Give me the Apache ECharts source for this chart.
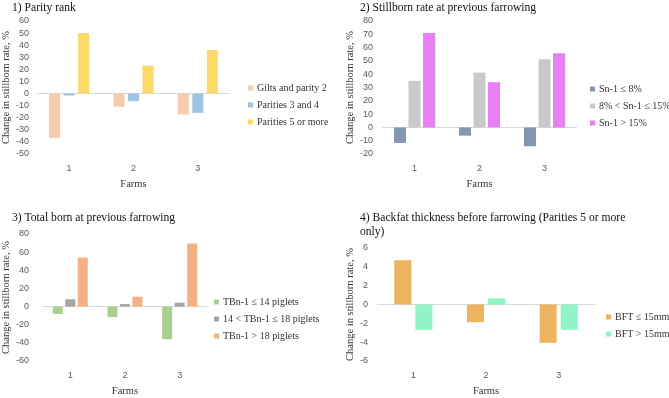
<!DOCTYPE html>
<html>
<head>
<meta charset="utf-8">
<script src="https://cdn.jsdelivr.net/npm/echarts@6/dist/echarts.min.js"></script>
<style>html,body{margin:0;padding:0;background:#fff}#c{width:669px;height:398px}</style>
</head>
<body>
<div id="c"></div>
<script>
// ---- data ----
const farms = ['1', '2', '3'];

const p1Title = '1) Parity rank';
const p1Names = ['Gilts and parity 2', 'Parities 3 and 4', 'Parities 5 or more'];
const p1Gilts = [-36.6, -11, -17.3];
const p1Par34 = [-1.6, -6.3, -16];
const p1Par5 = [50, 23.1, 36];
const p1Ticks = [-50, 60, 10];

const p2Title = '2) Stillborn rate at previous farrowing';
const p2Names = ['Sn-1 \u2264 8%', '8% < Sn-1 \u2264 15%', 'Sn-1 > 15%'];
const p2Low = [-11.7, -6.2, -14.2];
const p2Mid = [35, 41.2, 51.2];
const p2High = [71, 34, 55.8];
const p2Ticks = [-20, 80, 10];

const p3Title = '3) Total born at previous farrowing';
const p3Names = ['TBn-1 \u2264 14 piglets', '14 < TBn-1 \u2264 18 piglets', 'TBn-1 > 18 piglets'];
const p3Low = [-8.1, -11.6, -36];
const p3Mid = [8.1, 2.8, 4.2];
const p3High = [54, 10.9, 69.5];
const p3Ticks = [-60, 80, 20];

const p4Title = '4) Backfat thickness before farrowing (Parities 5 or more\nonly)';
const p4Names = ['BFT \u2264 15mm', 'BFT > 15mm'];
const p4Thin = [4.7, -1.88, -4.07];
const p4Thick = [-2.69, 0.64, -2.69];
const p4Ticks = [-6, 6, 2];

const yName = 'Change in stillborn rate, %';
const xName = 'Farms';

// ---- styles ----
const serif = 'Liberation Serif';
const sans = 'Liberation Sans';
const panels = [
  {title: p1Title, names: p1Names, data: [p1Gilts, p1Par34, p1Par5], ticks: p1Ticks,
   colors: ['#F8CBAD', '#9DC3E6', '#FFD966'],
   grid: {left: 35, top: 21, width: 195, height: 133}, titlePos: {left: 12, top: 1},
   legend: {left: 248, top: 82}, barW: 11, barGap: '32%', yLabMargin: 8, yNameGap: 24},
  {title: p2Title, names: p2Names, data: [p2Low, p2Mid, p2High], ticks: p2Ticks,
   colors: ['#8497B0', '#C9C9C9', '#E97FF5'],
   grid: {left: 382, top: 21, width: 195, height: 133}, titlePos: {left: 360, top: 1},
   legend: {left: 590, top: 83}, barW: 12, barGap: '21%', yLabMargin: 9, yNameGap: 26},
  {title: p3Title, names: p3Names, data: [p3Low, p3Mid, p3High], ticks: p3Ticks,
   colors: ['#A9D18E', '#A5A5A5', '#F4B183'],
   grid: {left: 35, top: 234, width: 172, height: 133}, titlePos: {left: 12, top: 211},
   legend: {left: 214, top: 296}, barW: 10, barGap: '25%', yLabMargin: 14, yNameGap: 24},
  {title: p4Title, names: p4Names, data: [p4Thin, p4Thick], ticks: p4Ticks,
   colors: ['#EDB35F', '#8FF4C6'],
   grid: {left: 377, top: 248, width: 218, height: 119}, titlePos: {left: 360, top: 211},
   legend: {left: 606, top: 311}, barW: 17, barGap: '24%', yLabMargin: 9, yNameGap: 21}
];

const option = {
  animation: false,
  backgroundColor: '#fff',
  title: [], grid: [], xAxis: [], yAxis: [], legend: [], series: []
};

panels.forEach((p, i) => {
  option.title.push({
    text: p.title, left: p.titlePos.left, top: p.titlePos.top, padding: 0,
    textStyle: {fontFamily: serif, fontSize: 11.6, fontWeight: 'normal', color: '#111', lineHeight: 14}
  });
  option.grid.push(Object.assign({containLabel: false}, p.grid));
  option.xAxis.push({
    type: 'category', gridIndex: i, data: farms,
    axisLine: {show: false}, axisTick: {show: false},
    axisLabel: {fontFamily: sans, fontSize: 9, color: '#595959', margin: 10},
    name: xName, nameLocation: 'middle', nameGap: 25,
    nameTextStyle: {fontFamily: serif, fontSize: 10.5, color: '#333'}
  });
  option.yAxis.push({
    type: 'value', gridIndex: i, min: p.ticks[0], max: p.ticks[1], interval: p.ticks[2],
    axisLine: {show: false}, axisTick: {show: false}, splitLine: {show: false},
    axisLabel: {fontFamily: sans, fontSize: 9, color: '#595959', margin: p.yLabMargin},
    name: yName, nameLocation: 'middle', nameGap: p.yNameGap, nameRotate: 90,
    nameTextStyle: {fontFamily: serif, fontSize: 10.5, color: '#333'}
  });
  option.legend.push({
    orient: 'vertical', left: p.legend.left, top: p.legend.top, padding: 0,
    itemWidth: 5, itemHeight: 5, itemGap: 5, icon: 'rect',
    data: p.names,
    textStyle: {fontFamily: serif, fontSize: 10, color: '#333', lineHeight: 12, padding: [0, 0, 0, -1]}
  });
  p.names.forEach((n, k) => {
    const s = {
      type: 'bar', name: n, xAxisIndex: i, yAxisIndex: i,
      data: p.data[k], barWidth: p.barW, barGap: p.barGap,
      itemStyle: {color: p.colors[k]}
    };
    if (k === 0) {
      s.markLine = {
        silent: true, symbol: ['none', 'none'], label: {show: false},
        lineStyle: {color: '#D9D9D9', width: 1, type: 'solid'},
        data: [{yAxis: 0}], z: 1
      };
    }
    option.series.push(s);
  });
});

const chart = echarts.init(document.getElementById('c'), null, {renderer: 'canvas'});
chart.setOption(option);
</script>
</body>
</html>
